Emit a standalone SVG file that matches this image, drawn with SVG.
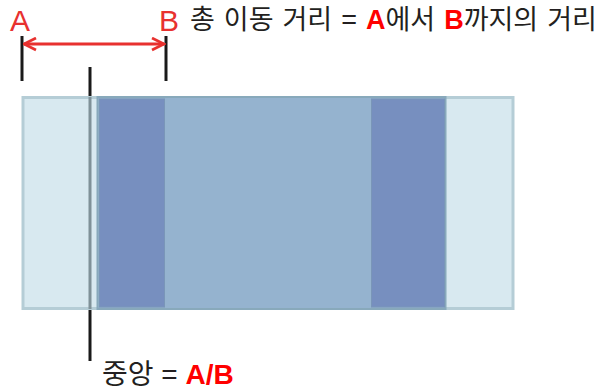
<svg xmlns="http://www.w3.org/2000/svg" width="606" height="389" viewBox="0 0 606 389">
<style>
.t{font-family:"Liberation Sans","Noto Sans CJK KR",sans-serif;font-size:27px;fill:#231f20}
.r{font-weight:bold;fill:#ff0000}
.lbl{font-family:"Liberation Sans",sans-serif;font-size:30px;fill:#e8312f}
.tick{stroke:#1a1a1a;stroke-width:3}
</style>
<defs>
<marker id="ah" viewBox="0 0 10 10" refX="9" refY="5" markerWidth="5" markerHeight="5" orient="auto-start-reverse" markerUnits="strokeWidth">
<path d="M1,1 L9,5 L1,9" fill="none" stroke="#e8312f" stroke-width="1.8"/>
</marker>
</defs>
<g id="center-line"><line x1="90" y1="67" x2="90" y2="361" class="tick"/></g>
<g id="outer"><rect x="23" y="97.5" width="490" height="211" fill="#d8e9f0" stroke="#b5cdd6" stroke-width="3"/></g>
<g id="middle"><rect x="97.5" y="97" width="348" height="212" fill="#95b3cf" stroke="#88a9bb" stroke-width="2"/></g>
<g id="band-left"><rect x="99.5" y="99" width="65" height="208" fill="#778fbf" stroke="#7a96b8" stroke-width="1"/></g>
<g id="band-right"><rect x="371.5" y="99" width="73" height="208" fill="#778fbf" stroke="#7a96b8" stroke-width="1"/></g>
<g id="center-overlay"><line x1="90" y1="97" x2="90" y2="309" stroke="#7f9198" stroke-width="3"/></g>
<g id="connectors">
<line x1="22" y1="36" x2="22" y2="81" class="tick"/>
<line x1="166" y1="36" x2="166" y2="81" class="tick"/>
<line x1="24" y1="44" x2="164" y2="44" stroke="#e8312f" stroke-width="3" marker-start="url(#ah)" marker-end="url(#ah)"/>
</g>
<g id="labels">
<text x="10" y="31" class="lbl">A</text>
<text x="159" y="31" class="lbl">B</text>
<text x="190" y="29" class="t" word-spacing="1.5">총 이동 거리 = <tspan class="r">A</tspan>에서 <tspan class="r">B</tspan>까지의 거리</text>
<text x="102" y="384" class="t" style="font-size:28px">중앙 = <tspan class="r">A/B</tspan></text>
</g>
</svg>
